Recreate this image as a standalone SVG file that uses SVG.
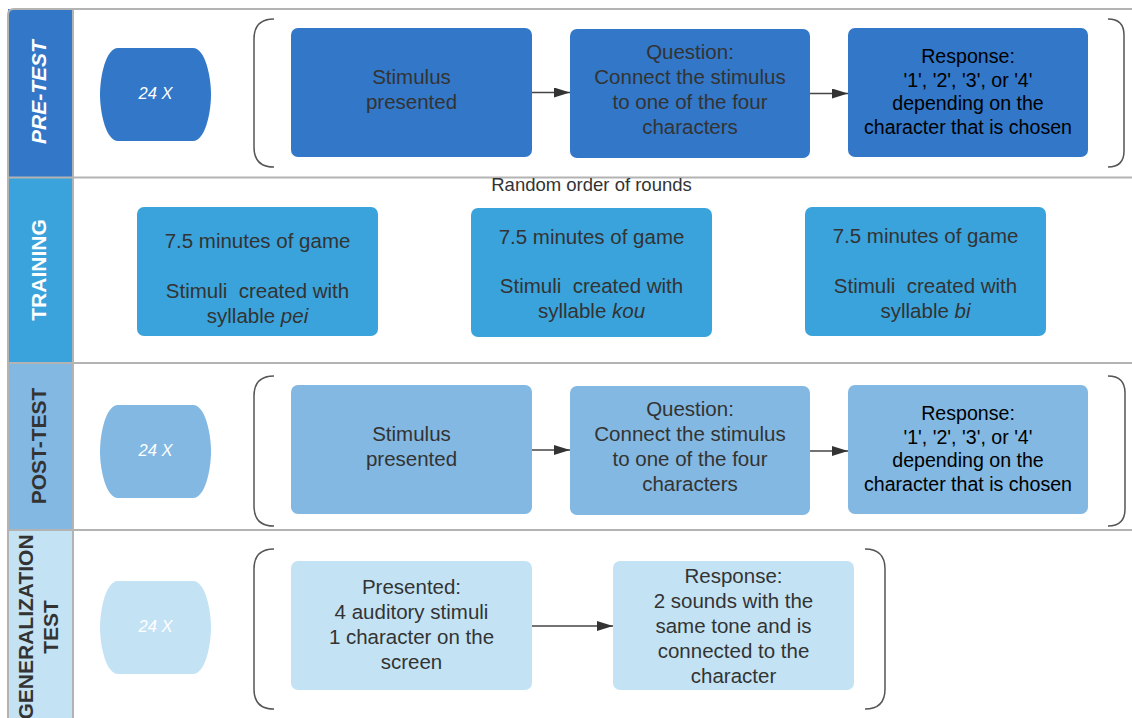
<svg xmlns="http://www.w3.org/2000/svg" width="1132" height="718" viewBox="0 0 1132 718">
<defs>
<style>
.frame{fill:none;stroke:#B3B3B3;stroke-width:2}
.lbl{font-family:"Liberation Sans",Arial,sans-serif;font-size:21px;font-weight:bold;text-anchor:middle}
.t{font-family:"Liberation Sans",Arial,sans-serif;font-size:20.5px;fill:#333333;text-anchor:middle}
.r{font-family:"Liberation Sans",Arial,sans-serif;font-size:19.6px;fill:#000000;text-anchor:middle}
.x{font-family:"Liberation Sans",Arial,sans-serif;font-size:16.5px;font-style:italic;fill:#FFFFFF;text-anchor:middle}
.br{fill:none;stroke:#555555;stroke-width:1.5}
.con{fill:none;stroke:#444444;stroke-width:1.3}
.c1{fill:#3277C8}.c2{fill:#3AA3DC}.c3{fill:#82B8E2}.c4{fill:#C3E3F5}
</style>
<marker id="ah" viewBox="0 0 16 10" refX="16" refY="5" markerWidth="16" markerHeight="10" markerUnits="userSpaceOnUse" orient="auto">
<path d="M0,0 L16,5 L0,10 Z" fill="#333333"/>
</marker>
<path id="stad" d="M118,0 H193 C205,0 211,28 211,46.5 C211,65 205,93 193,93 H118 C106,93 100,65 100,46.5 C100,28 106,0 118,0 Z"/>
</defs>
<rect width="1132" height="718" fill="#FFFFFF"/>

<g id="lanes">
<rect x="8" y="9" width="65" height="168.5" class="c1"/>
<rect x="8" y="177.5" width="65" height="185.5" class="c2"/>
<rect x="8" y="363" width="65" height="167" class="c3"/>
<rect x="8" y="530" width="65" height="190" class="c4"/>
<path class="frame" d="M1132,9 H14 Q8,9 8,15 V720 M73,9 V720 M8,177.5 H1132 M8,363 H1132 M8,530 H1132"/>
<text class="lbl" fill="#FFFFFF" font-style="italic" transform="translate(45.5,92) rotate(-90)">PRE-TEST</text>
<text class="lbl" fill="#FFFFFF" transform="translate(45.5,270) rotate(-90)">TRAINING</text>
<text class="lbl" fill="#333333" transform="translate(45.5,446) rotate(-90)">POST-TEST</text>
<text class="lbl" fill="#333333" transform="translate(33,627) rotate(-90)">GENERALIZATION</text>
<text class="lbl" fill="#333333" transform="translate(58,627) rotate(-90)">TEST</text>
</g>

<g id="repeat-pre"><use href="#stad" y="48" class="c1"/><text class="x" x="155.5" y="99">24 X</text></g>
<g id="repeat-post"><use href="#stad" y="405" class="c3"/><text class="x" x="155.5" y="456">24 X</text></g>
<g id="repeat-gen"><use href="#stad" y="581" class="c4"/><text class="x" x="155.5" y="632">24 X</text></g>

<g id="brackets">
<path class="br" d="M274,19 H274 Q254,19 254,39 V147 Q254,167 274,167"/>
<path class="br" d="M1108,19 Q1124,19 1124,35 V151 Q1124,167 1108,167"/>
<path class="br" d="M274,376 Q254,376 254,396 V506 Q254,526 274,526"/>
<path class="br" d="M1108,376 Q1125,376 1125,393 V509 Q1125,526 1108,526"/>
<path class="br" d="M274,549 Q254,549 254,569 V689 Q254,709 274,709"/>
<path class="br" d="M865,549 Q885,549 885,569 V689 Q885,709 865,709"/>
</g>

<g id="connectors">
<line class="con" x1="532" y1="92.5" x2="570" y2="92.5" marker-end="url(#ah)"/>
<line class="con" x1="810" y1="93.5" x2="848" y2="93.5" marker-end="url(#ah)"/>
<line class="con" x1="532" y1="450" x2="570" y2="450" marker-end="url(#ah)"/>
<line class="con" x1="810" y1="451" x2="848" y2="451" marker-end="url(#ah)"/>
<line class="con" x1="532" y1="626" x2="613" y2="626" marker-end="url(#ah)"/>
</g>

<g id="pre-stimulus"><rect x="291" y="28" width="241" height="129" rx="7" class="c1"/>
<text class="t" x="411.5" y="84">Stimulus</text><text class="t" x="411.5" y="109">presented</text></g>
<g id="pre-question"><rect x="570" y="29" width="240" height="129" rx="7" class="c1"/>
<text class="t" x="690" y="59">Question:</text><text class="t" x="690" y="84">Connect the stimulus</text><text class="t" x="690" y="109">to one of the four</text><text class="t" x="690" y="134">characters</text></g>
<g id="pre-response"><rect x="848" y="28" width="240" height="129" rx="7" class="c1"/>
<text class="r" x="968" y="63">Response:</text><text class="r" x="968" y="86.5">'1', '2', '3', or '4'</text><text class="r" x="968" y="110">depending on the</text><text class="r" x="968" y="134">character that is chosen</text></g>

<g id="random-label"><text class="t" x="591.5" y="191" style="font-size:18.5px">Random order of rounds</text></g>

<g id="train-pei"><rect x="137" y="207" width="241" height="129" rx="7" class="c2"/>
<text class="t" x="257.5" y="248">7.5 minutes of game</text><text class="t" x="257.5" y="298" xml:space="preserve">Stimuli  created with</text><text class="t" x="257.5" y="323">syllable <tspan font-style="italic">pei</tspan></text></g>
<g id="train-kou"><rect x="471" y="208" width="241" height="129" rx="7" class="c2"/>
<text class="t" x="591.5" y="244">7.5 minutes of game</text><text class="t" x="591.5" y="293" xml:space="preserve">Stimuli  created with</text><text class="t" x="591.5" y="318">syllable <tspan font-style="italic">kou</tspan></text></g>
<g id="train-bi"><rect x="805" y="207" width="241" height="129" rx="7" class="c2"/>
<text class="t" x="925.5" y="243">7.5 minutes of game</text><text class="t" x="925.5" y="293" xml:space="preserve">Stimuli  created with</text><text class="t" x="925.5" y="318">syllable <tspan font-style="italic">bi</tspan></text></g>

<g id="post-stimulus"><rect x="291" y="385" width="241" height="129" rx="7" class="c3"/>
<text class="t" x="411.5" y="441">Stimulus</text><text class="t" x="411.5" y="466">presented</text></g>
<g id="post-question"><rect x="570" y="386" width="240" height="129" rx="7" class="c3"/>
<text class="t" x="690" y="416">Question:</text><text class="t" x="690" y="441">Connect the stimulus</text><text class="t" x="690" y="466">to one of the four</text><text class="t" x="690" y="491">characters</text></g>
<g id="post-response"><rect x="848" y="385" width="240" height="129" rx="7" class="c3"/>
<text class="r" x="968" y="420">Response:</text><text class="r" x="968" y="443.5">'1', '2', '3', or '4'</text><text class="r" x="968" y="467">depending on the</text><text class="r" x="968" y="491">character that is chosen</text></g>

<g id="gen-presented"><rect x="291" y="561" width="241" height="129" rx="7" class="c4"/>
<text class="t" x="411.5" y="594">Presented:</text><text class="t" x="411.5" y="619">4 auditory stimuli</text><text class="t" x="411.5" y="644">1 character on the</text><text class="t" x="411.5" y="669">screen</text></g>
<g id="gen-response"><rect x="613" y="561" width="241" height="129" rx="7" class="c4"/>
<text class="t" x="733.5" y="583">Response:</text><text class="t" x="733.5" y="608">2 sounds with the</text><text class="t" x="733.5" y="633">same tone and is</text><text class="t" x="733.5" y="658">connected to the</text><text class="t" x="733.5" y="683">character</text></g>
</svg>
